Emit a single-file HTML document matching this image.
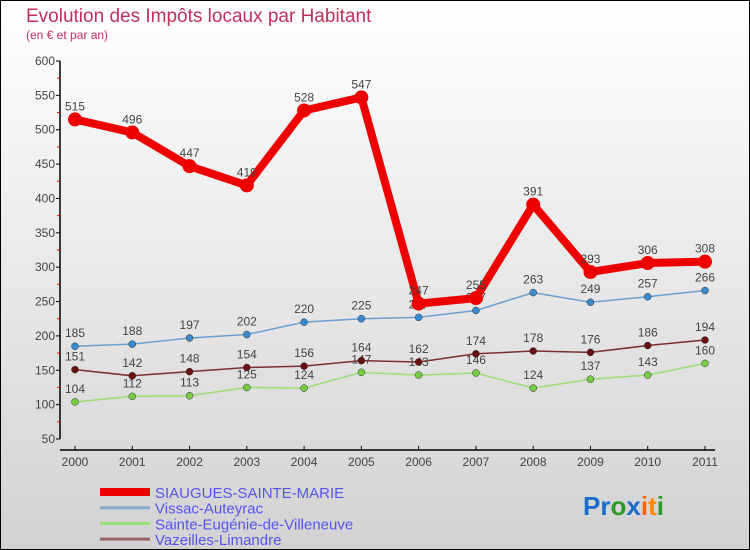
<!DOCTYPE html>
<html><head><meta charset="utf-8"><style>
body{margin:0;}
#c{width:750px;height:550px;position:relative;overflow:hidden;}
svg{display:block;font-family:"Liberation Sans",sans-serif;}
</style></head><body>
<div id="c">
<svg id="s" width="750" height="550" xmlns="http://www.w3.org/2000/svg">
<defs><linearGradient id="bg" x1="0" y1="0" x2="0" y2="1"><stop offset="0" stop-color="#ffffff"/><stop offset="1" stop-color="#d2d2d2"/></linearGradient></defs>
<rect x="0.5" y="0.5" width="749" height="549" fill="url(#bg)" stroke="#000"/>
<text x="26" y="22" font-size="19" fill="#c0305a">Evolution des Impôts locaux par Habitant</text>
<text x="26" y="39" font-size="12" fill="#c0305a">(en € et par an)</text>
<g id="axes"></g>
<g id="series"></g>
<g id="legend"></g>
<text x="583" y="515" font-size="26" font-weight="bold"><tspan fill="#1a6fcc">Pr</tspan><tspan fill="#2a9a2a">o</tspan><tspan fill="#1a6fcc">x</tspan><tspan fill="#ff6600">i</tspan><tspan fill="#ff8800">t</tspan><tspan fill="#2a9a2a">i</tspan></text>
</svg></div>
<script>
const years=[2000,2001,2002,2003,2004,2005,2006,2007,2008,2009,2010,2011];
const yTicks=[50,100,150,200,250,300,350,400,450,500,550,600];
const siaugues=[515,496,447,419,528,547,247,255,391,293,306,308];
const vissac=[185,188,197,202,220,225,227,237,263,249,257,266];
const sainteEug=[104,112,113,125,124,147,143,146,124,137,143,160];
const vazeilles=[151,142,148,154,156,164,162,174,178,176,186,194];
const names=["SIAUGUES-SAINTE-MARIE","Vissac-Auteyrac","Sainte-Eugénie-de-Villeneuve","Vazeilles-Limandre"];
const NS="http://www.w3.org/2000/svg";
function X(i){return 75+i*(630/11);}
function Y(v){return 439-(v-50)*(378/550);}
function mk(t,a,p){const e=document.createElementNS(NS,t);for(const k in a)e.setAttribute(k,a[k]);p.appendChild(e);return e;}
const ax=document.getElementById('axes');
let l=mk('line',{x1:60,y1:Y(600),x2:60,y2:Y(50),stroke:'#000','stroke-width':1.5},ax);


l=mk('line',{x1:60,y1:450,x2:715,y2:450,stroke:'#000','stroke-width':1.5},ax);


yTicks.forEach((v,i)=>{
 mk('line',{x1:56,y1:Y(v),x2:60,y2:Y(v),stroke:'#000'},ax);
 if(i<yTicks.length-1) mk('line',{x1:57,y1:Y(v+25),x2:60,y2:Y(v+25),stroke:'#e00'},ax);
 const t=mk('text',{x:55,y:Y(v)+4,'font-size':12,fill:'#444','text-anchor':'end'},ax);t.textContent=v;
 
 
});
years.forEach((y,i)=>{
 mk('line',{x1:X(i),y1:446,x2:X(i),y2:450,stroke:'#000'},ax);
 const t=mk('text',{x:X(i),y:466,'font-size':12,fill:'#444','text-anchor':'middle'},ax);t.textContent=y;
 
 
});
const sg=document.getElementById('series');
const defs=[[vissac,'#6aa0d0',1.5,'#3a8ad0',3.5,'vissac'],[sainteEug,'#99dd77',1.5,'#77cc44',3.5,'sainte-eugenie'],[vazeilles,'#7a3030',1.5,'#6a1010',3.5,'vazeilles'],[siaugues,'#ee0000',8,'#ee0000',7,'siaugues']];
defs.forEach(([d,c,w,dc,r,n])=>{
 const g=mk('g',{},sg);
 
 
 const p=mk('polyline',{points:d.map((v,i)=>X(i)+','+Y(v)).join(' '),fill:'none',stroke:c,'stroke-width':w,'stroke-linejoin':'round'},g);
 
 
 d.forEach((v,i)=>{
  const ci=mk('circle',{cx:X(i),cy:Y(v),r:r,fill:dc,stroke:r<5?'#333':'none','stroke-width':0.5},g);
  
  
  const t=mk('text',{x:X(i),y:Y(v)-9,'font-size':12,fill:'#444','text-anchor':'middle'},g);t.textContent=v;
  
  
 });
});
const lg=document.getElementById('legend');
const lc=['#ee0000','#88aacc','#99dd77','#996666'],lw=[8,3,3,3];
names.forEach((n,i)=>{
 const y=492+i*15.7;
 const ln=mk('line',{x1:100,y1:y,x2:150,y2:y,stroke:lc[i],'stroke-width':lw[i]},lg);
 
 
 const t=mk('text',{x:155,y:y+6,'font-size':15,fill:'#5555ee'},lg);t.textContent=n;
 
 
});
</script>
</body></html>
